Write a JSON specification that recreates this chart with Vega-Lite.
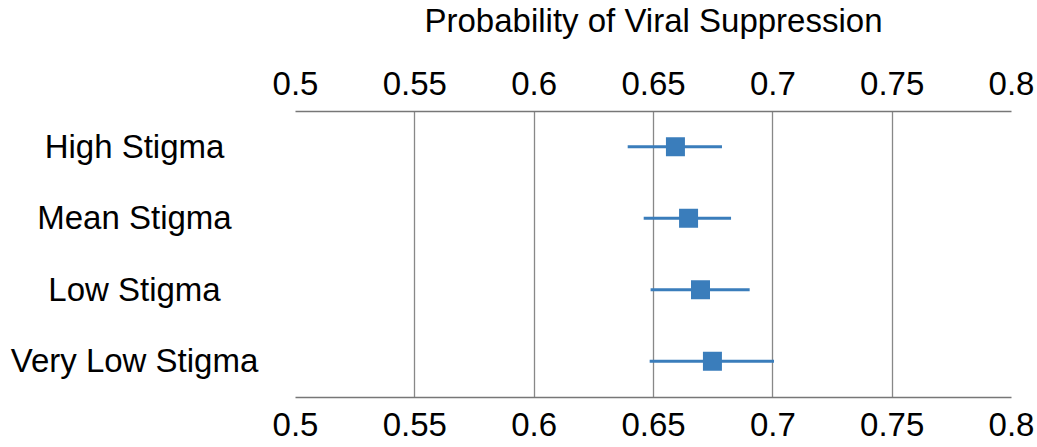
{
  "$schema": "https://vega.github.io/schema/vega-lite/v6.json",
  "width": 716,
  "height": 286,
  "autosize": {"type": "none"},
  "padding": {"left": 295, "top": 111, "right": 26, "bottom": 50},
  "background": "white",
  "config": {
    "view": {"stroke": null},
    "font": "Liberation Sans",
    "axis": {"labelFont": "Liberation Sans", "titleFont": "Liberation Sans", "labelColor": "black", "titleColor": "black"}
  },
  "data": {
    "values": [
      {"group": "High Stigma", "p": 0.6594, "lo": 0.6394, "hi": 0.6789},
      {"group": "Mean Stigma", "p": 0.6649, "lo": 0.6461, "hi": 0.6827},
      {"group": "Low Stigma", "p": 0.6699, "lo": 0.6490, "hi": 0.6905},
      {"group": "Very Low Stigma", "p": 0.6749, "lo": 0.6486, "hi": 0.7007}
    ]
  },
  "resolve": {"axis": {"x": "independent"}},
  "layer": [
    {
      "mark": {"type": "rule", "color": "#3a7dbb", "strokeWidth": 3},
      "encoding": {
        "y": {
          "field": "group", "type": "nominal",
          "sort": ["High Stigma", "Mean Stigma", "Low Stigma", "Very Low Stigma"],
          "scale": {"paddingInner": 0, "paddingOuter": 0},
          "axis": {"title": null, "domain": false, "ticks": false, "labelAlign": "center", "labelPadding": 161, "labelFontSize": 33, "labelLimit": 400, "labelOffset": 1}
        },
        "x": {
          "field": "lo", "type": "quantitative",
          "scale": {"domain": [0.5, 0.8], "nice": false, "zero": false},
          "axis": {
            "orient": "top", "title": "Probability of Viral Suppression", "titleFontSize": 33, "titleFontWeight": "normal", "titlePadding": 30,
            "values": [0.5, 0.55, 0.6, 0.65, 0.7, 0.75, 0.8], "format": "~g",
            "labelFontSize": 33, "labelPadding": 10, "ticks": false, "labelFlush": false,
            "domainColor": "#777", "domainWidth": 1.5,
            "grid": true, "gridColor": "#888", "gridWidth": 1.3,
            "gridOpacity": {"condition": {"test": "datum.value < 0.51 || datum.value > 0.79", "value": 0}, "value": 1}
          }
        },
        "x2": {"field": "hi"}
      }
    },
    {
      "mark": {"type": "point", "shape": "square", "filled": true, "size": 361, "color": "#3a7dbb", "opacity": 1},
      "encoding": {
        "y": {"field": "group", "type": "nominal", "sort": ["High Stigma", "Mean Stigma", "Low Stigma", "Very Low Stigma"]},
        "x": {
          "field": "p", "type": "quantitative",
          "axis": {
            "orient": "bottom", "title": null,
            "values": [0.5, 0.55, 0.6, 0.65, 0.7, 0.75, 0.8], "format": "~g",
            "labelFontSize": 33, "labelPadding": 12, "ticks": false, "labelFlush": false,
            "domainColor": "#777", "domainWidth": 1.5, "grid": false
          }
        }
      }
    }
  ]
}
